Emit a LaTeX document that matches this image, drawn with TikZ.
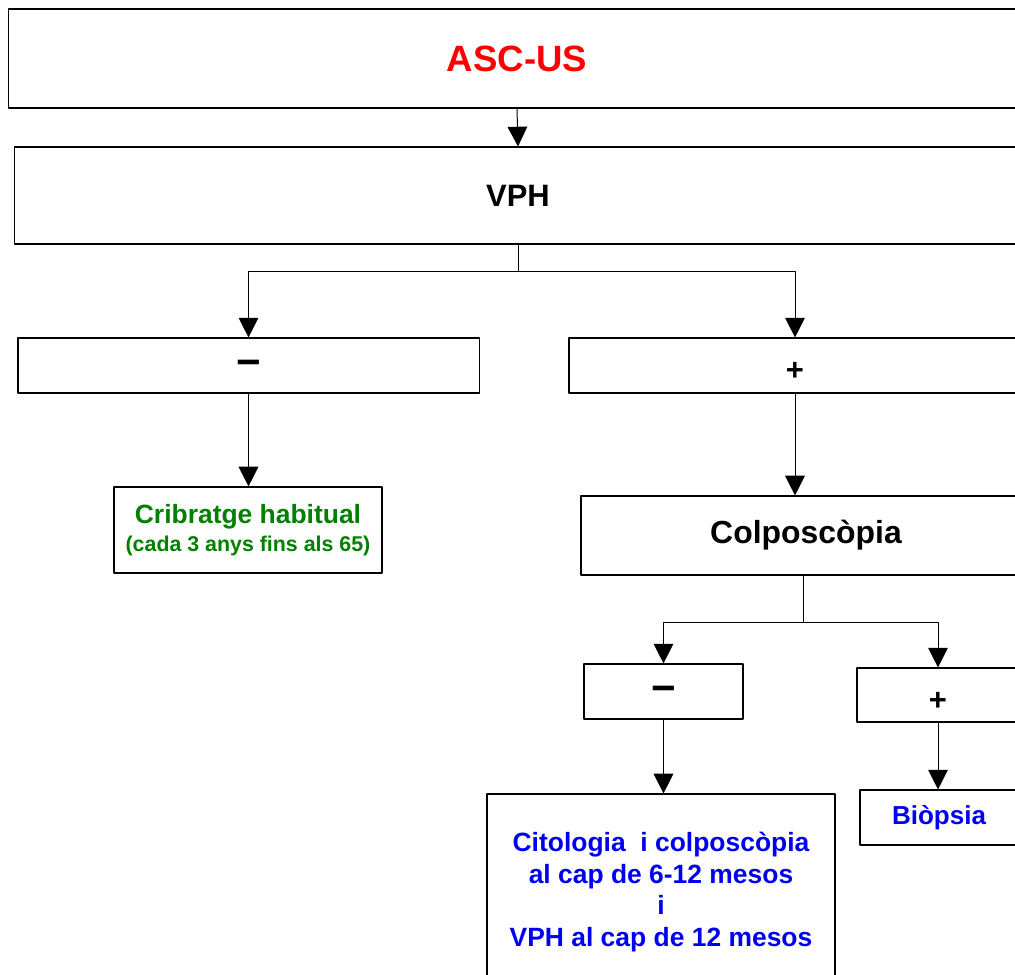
\documentclass[tikz,border=0pt]{standalone}
\usepackage{fontspec}
\setmainfont{Liberation Sans}
\usetikzlibrary{arrows.meta}
\definecolor{verd}{RGB}{0,128,0}
\definecolor{blau}{RGB}{0,0,240}
\newcommand{\menys}{\smash{\raisebox{-7.5pt}{\fontsize{30}{30}\selectfont −}}}
\newcommand{\mes}{\smash{\raisebox{-11pt}{+}}}
\tikzset{
	caixa/.style={draw, line width=0.8pt, inner sep=0pt, align=center, font=\bfseries},
	fletxa/.style={line width=0.7pt, -{Triangle[width=14pt,length=14pt]}},
	signe/.style={font=\fontsize{22}{26}\selectfont\bfseries},
}
\begin{document}
\begin{tikzpicture}[x=0.025cm, y=-0.025cm, line join=round]
	\useasboundingbox (0,0) rectangle (1015,975);
	\clip (0,0) rectangle (1015,975);
	% primer nivell
	\node[caixa, minimum width=25.4cm, minimum height=2.475cm, text=red, font=\fontsize{26}{30}\selectfont\bfseries] (asc) at (517,58.5) {ASC-US};
	\node[caixa, minimum width=25.15cm, minimum height=2.425cm, font=\fontsize{22}{26}\selectfont\bfseries] (vph) at (518,195.5) {VPH};
	% resultat VPH
	\node[caixa, signe, minimum width=11.525cm, minimum height=1.375cm] (neg1) at (248.5,365.5) {\menys};
	\node[caixa, signe, minimum width=11.3cm, minimum height=1.375cm] (pos1) at (795,365.5) {\mes};
	\node[caixa, minimum width=6.7cm, minimum height=2.15cm, text=verd] (crib) at (248,530) {{\fontsize{18.8}{22}\selectfont Cribratge habitual}\\[4pt] {\fontsize{15.2}{18}\selectfont (cada 3 anys fins als 65)}};
	\node[caixa, minimum width=11.25cm, minimum height=1.975cm, font=\fontsize{22.7}{26}\selectfont\bfseries] (colp) at (806,535.5) {Colposcòpia};
	% resultat colposcòpia
	\node[caixa, signe, minimum width=3.975cm, minimum height=1.375cm] (neg2) at (663.5,691.5) {\menys};
	\node[caixa, signe, minimum width=4.05cm, minimum height=1.35cm] (pos2) at (938,695) {\mes};
	\node[caixa, minimum width=8.7cm, minimum height=4.9cm, text=blau, font=\fontsize{18.8}{22.7}\selectfont\bfseries] (cito) at (661,892) {Citologia \ i colposcòpia\\al cap de 6-12 mesos\\i\\VPH al cap de 12 mesos};
	\node[caixa, minimum width=3.95cm, minimum height=1.375cm, text=blau, font=\fontsize{18.5}{22}\selectfont\bfseries] (biop) at (939,817.5) {Biòpsia};
	% connectors
	\draw[fletxa] (asc.south) -- (vph.north);
	\draw[fletxa] (vph.south) -- ++(0,27) -| (neg1.north);
	\draw[fletxa] (vph.south) -- ++(0,27) -| (pos1.north);
	\draw[fletxa] (neg1.south) -- (neg1.south |- crib.north);
	\draw[fletxa] (pos1.south) -- (pos1.south |- colp.north);
	\draw[fletxa] ([xshift=-3\pgflinewidth]colp.south) -- ++(0,47) -| (neg2.north);
	\draw[fletxa] ([xshift=-3\pgflinewidth]colp.south) -- ++(0,47) -| (pos2.north);
	\draw[fletxa] (neg2.south) -- (neg2.south |- cito.north);
	\draw[fletxa] (pos2.south) -- (pos2.south |- biop.north);
\end{tikzpicture}
\end{document}
